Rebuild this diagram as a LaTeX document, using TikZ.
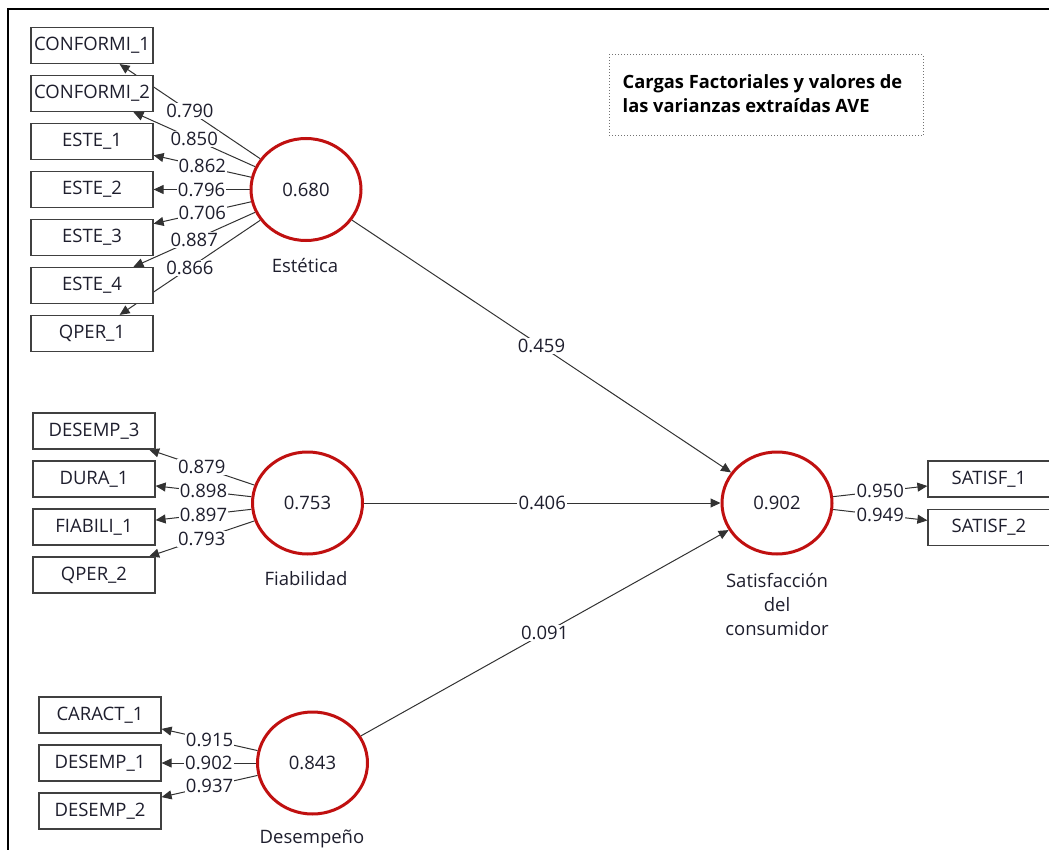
\documentclass[tikz,border=0pt]{standalone}
\usepackage{fontspec}
\setmainfont{Open Sans}
\usetikzlibrary{arrows.meta,shapes.geometric,backgrounds}
\definecolor{latred}{RGB}{192,16,16}
\definecolor{linegray}{RGB}{50,50,50}
\definecolor{txt}{RGB}{30,30,45}
\begin{document}
\begin{tikzpicture}[x=1pt,y=-1pt,
  every node/.style={font=\fontsize{18.5}{24}\selectfont, text=txt},
  latent/.style={ellipse, draw=latred, line width=3pt, fill=white,
    minimum width=110pt, minimum height=102pt, inner sep=0pt},
  indicator/.style={rectangle, draw=black!75, line width=1.2pt, fill=white,
    minimum width=122pt, minimum height=36pt, inner sep=0pt},
  loading/.style={draw=linegray, line width=1pt, -{Triangle[length=10pt,width=9pt]}},
  structpath/.style={draw=linegray, line width=1pt, -{Triangle[length=10pt,width=9pt]}},
  coef/.style={fill=white, inner sep=1.2pt, midway},
  latname/.style={align=center},
  titlebox/.style={draw=black!55, dotted, line width=1pt, minimum width=314pt, minimum height=81pt},
  titletext/.style={font=\bfseries\fontsize{18.3}{24}\selectfont, text=black, align=left, inner sep=0pt},
]
\useasboundingbox (0,0) rectangle (1049,850);

% frame
\draw[line width=2pt] (8,850) -- (8,9) -- (1049,9);

% title
\node[titlebox] (title) at (766,95.5) {};
\node[titletext, anchor=west] (titletxt) at ([xshift=14pt,yshift=2pt]title.west)
  {Cargas Factoriales y valores de\\las varianzas extraídas AVE};

% latent variables
\node[latent] (est) at (306,189.5) {0.680};
\node[latent] (fia) at (307.5,503) {0.753};
\node[latent] (des) at (312.5,763) {0.843};
\node[latent] (sat) at (777,503) {0.902};

\node[latname] (estn) at (305,266) {Estética};
\node[latname] (fian) at (306,579) {Fiabilidad};
\node[latname] (desn) at (312,839) {Desempeño};
\node[latname] (satn) at (777,604) {Satisfacción\\del\\consumidor};

% indicators of Estética
\node[indicator] (conf1) at (92,45.5)  {CONFORMI\_1};
\node[indicator] (conf2) at (92,93.5)  {CONFORMI\_2};
\node[indicator] (este1) at (92,141.5) {ESTE\_1};
\node[indicator] (este2) at (92,189.5) {ESTE\_2};
\node[indicator] (este3) at (92,237.5) {ESTE\_3};
\node[indicator] (este4) at (92,285.5) {ESTE\_4};
\node[indicator] (qper1) at (92,333.5) {QPER\_1};

% indicators of Fiabilidad
\node[indicator] (desem3) at (94,431) {DESEMP\_3};
\node[indicator] (dura1)  at (94,479) {DURA\_1};
\node[indicator] (fiab1)  at (94,527) {FIABILI\_1};
\node[indicator] (qper2)  at (94,575) {QPER\_2};

% indicators of Desempeño
\node[indicator] (carac1) at (100,715) {CARACT\_1};
\node[indicator] (desem1) at (100,763) {DESEMP\_1};
\node[indicator] (desem2) at (100,811) {DESEMP\_2};

% indicators of Satisfacción
\node[indicator] (satis1) at (989,479)   {SATISF\_1};
\node[indicator] (satis2) at (989,527.5) {SATISF\_2};

\begin{pgfonlayer}{background}
  % outer loadings
  \draw[loading] (est) -- (conf1) node[coef] (l1) {0.790};
  \draw[loading] (est) -- (conf2) node[coef] (l2) {0.850};
  \draw[loading] (est) -- (este1) node[coef] (l3) {0.862};
  \draw[loading] (est) -- (este2) node[coef] (l4) {0.796};
  \draw[loading] (est) -- (este3) node[coef] (l5) {0.706};
  \draw[loading] (est) -- (este4) node[coef] (l6) {0.887};
  \draw[loading] (est) -- (qper1) node[coef] (l7) {0.866};

  \draw[loading] (fia) -- (desem3) node[coef] (l8)  {0.879};
  \draw[loading] (fia) -- (dura1)  node[coef] (l9)  {0.898};
  \draw[loading] (fia) -- (fiab1)  node[coef] (l10) {0.897};
  \draw[loading] (fia) -- (qper2)  node[coef] (l11) {0.793};

  \draw[loading] (des) -- (carac1) node[coef] (l12) {0.915};
  \draw[loading] (des) -- (desem1) node[coef] (l13) {0.902};
  \draw[loading] (des) -- (desem2) node[coef] (l14) {0.937};

  \draw[loading] (sat) -- (satis1) node[coef] (l15) {0.950};
  \draw[loading] (sat) -- (satis2) node[coef] (l16) {0.949};

  % path coefficients
  \draw[structpath] (est) -- (sat) node[coef] (p1) {0.459};
  \draw[structpath] (fia) -- (sat) node[coef] (p2) {0.406};
  \draw[structpath] (des) -- (sat) node[coef] (p3) {0.091};
\end{pgfonlayer}
\end{tikzpicture}
\end{document}
